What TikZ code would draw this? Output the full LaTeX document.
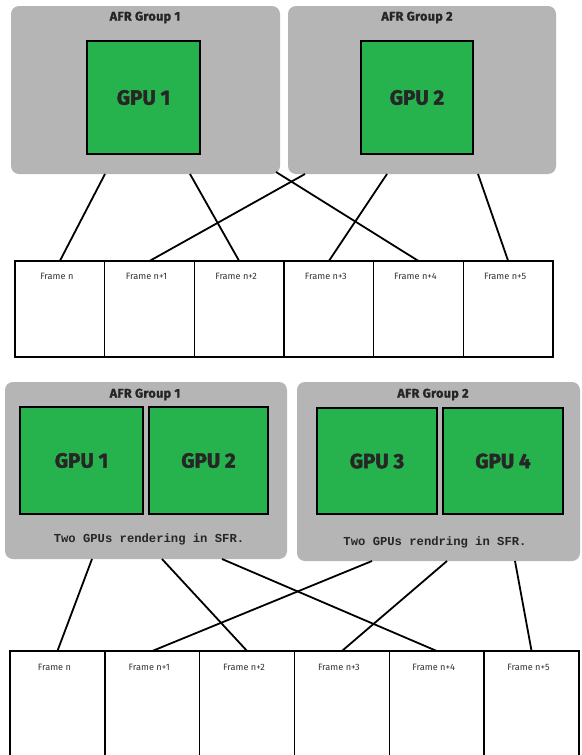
\documentclass[tikz,border=0pt]{standalone}
\usepackage{fontspec}
\setmainfont{Fira Sans}
\newfontfamily\heavyfont[BoldFeatures={FakeBold=2}]{Fira Sans}
\newfontfamily\lblfont[BoldFeatures={FakeBold=1.5,LetterSpace=3}]{Fira Sans}
\newfontfamily\monofont{Liberation Mono}
\usetikzlibrary{calc}
\definecolor{grpgray}{RGB}{181,181,181}
\definecolor{gpugreen}{RGB}{38,178,76}
\begin{document}
\begin{tikzpicture}[x=1pt,y=-1pt,
  grp/.style={draw=none,fill=grpgray,rounded corners=8pt,inner sep=0,outer sep=0},
  gpu/.style={draw=black,line width=2.8pt,fill=gpugreen,inner sep=0,outer sep=0,
    font=\heavyfont\fontsize{20.5}{22}\selectfont\bfseries,text=black!85},
  grplabel/.style={font=\lblfont\fontsize{12.5}{14}\selectfont\bfseries,text=black!85,inner sep=0},
  framebox/.style={draw=black,line width=1.6pt,inner sep=0,outer sep=0},
  framelabel/.style={font=\fontsize{9.2}{10}\selectfont,text=black!80,inner sep=0},
  sfrtext/.style={font=\monofont\fontsize{12.2}{13}\selectfont\bfseries,text=black!85,inner sep=0},
  link/.style={draw=black,line width=1.8pt}]
\useasboundingbox (0,0) rectangle (581,755);
\clip (0,0) rectangle (581,755);
\fill[white] (0,0) rectangle (581,755);

% ---------- top part ----------
\node[grp,minimum width=269pt,minimum height=168pt] (tg1) at (145.5,90) {};
\node[grp,minimum width=268pt,minimum height=168pt] (tg2) at (422,90) {};
\node[grplabel] (tl1) at (145,17.5) {AFR Group 1};
\node[grplabel] (tl2) at (417,17.5) {AFR Group 2};
\node[gpu,minimum width=113pt,minimum height=113pt] (tgpu1) at (143.5,97.5) {GPU 1};
\node[gpu,minimum width=112pt,minimum height=113pt] (tgpu2) at (417,97.5) {GPU 2};

\foreach \i/\t in {0/Frame n,1/Frame n+1,2/Frame n+2,3/Frame n+3,4/Frame n+4,5/Frame n+5}{
  \node[framebox,minimum width=89.67pt,minimum height=96pt] (tf\i) at ({15+89.67*\i+44.83},309) {};
  \node[framelabel] (tfl\i) at ($(tf\i.north)+(-3,15)$) {\t};
}

\draw[link] ($(tg1.south west)+(94,0)$) -- (tf0.north);
\draw[link] ($(tg1.south west)+(179,0)$) -- (tf2.north);
\draw[link] ($(tg1.south east)+(-4,-2)$) -- (tf4.north);
\draw[link] ($(tg2.south west)+(17,0)$) -- (tf1.north);
\draw[link] ($(tg2.south west)+(99,0)$) -- (tf3.north);
\draw[link] ($(tg2.south west)+(190,0)$) -- (tf5.north);

% ---------- bottom part ----------
\node[grp,minimum width=282pt,minimum height=177pt] (bg1) at (146,470.5) {};
\node[grp,minimum width=283pt,minimum height=179pt] (bg2) at (438.5,471.5) {};
\node[grplabel] (bl1) at (145,394.5) {AFR Group 1};
\node[grplabel] (bl2) at (433,394.5) {AFR Group 2};
\node[gpu,minimum width=123pt,minimum height=107pt] (bgpu1) at (81.5,460.5) {GPU 1};
\node[gpu,minimum width=119pt,minimum height=107pt] (bgpu2) at (208.5,460.5) {GPU 2};
\node[gpu,minimum width=120pt,minimum height=106pt] (bgpu3) at (377,461) {GPU 3};
\node[gpu,minimum width=120pt,minimum height=106pt] (bgpu4) at (503,461) {GPU 4};
\node[sfrtext] (bt1) at (149,539.5) {Two GPUs rendering in SFR.};
\node[sfrtext] (bt2) at (435,542.5) {Two GPUs rendring in SFR.};

\foreach \i/\t in {0/Frame n,1/Frame n+1,2/Frame n+2,3/Frame n+3,4/Frame n+4,5/Frame n+5}{
  \node[framebox,minimum width=94.83pt,minimum height=120pt] (bf\i) at ({10+94.83*\i+47.42},711) {};
  \node[framelabel] (bfl\i) at ($(bf\i.north)+(-3,16)$) {\t};
}

\draw[link] ($(bg1.south west)+(87,0)$) -- (bf0.north);
\draw[link] ($(bg1.south west)+(157,0)$) -- (bf2.north);
\draw[link] ($(bg1.south west)+(217,0)$) -- (bf4.north);
\draw[link] ($(bg2.south west)+(75,0)$) -- (bf1.north);
\draw[link] ($(bg2.south west)+(150,0)$) -- (bf3.north);
\draw[link] ($(bg2.south west)+(218,0)$) -- (bf5.north);
\end{tikzpicture}
\end{document}
